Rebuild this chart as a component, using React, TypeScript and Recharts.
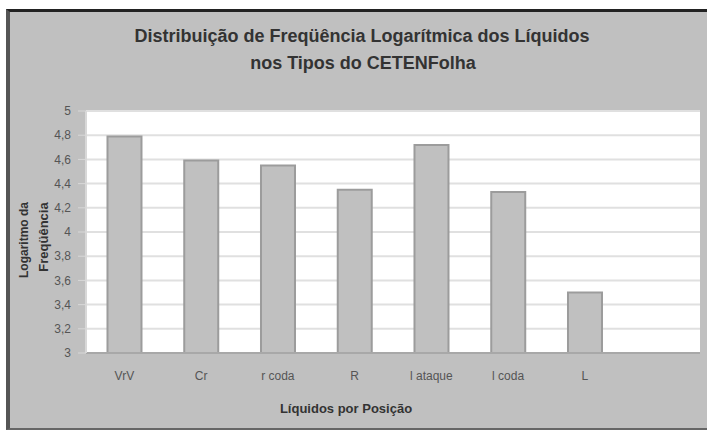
import { BarChart, Bar, XAxis, YAxis, CartesianGrid, Label } from "recharts";

// liquids by position (last slot is empty, as in the original sheet)
const categories = ["VrV", "Cr", "r coda", "R", "l ataque", "l coda", "L", ""];
const logFreq: (number | null)[] = [4.79, 4.59, 4.55, 4.35, 4.72, 4.33, 3.5, null];
const yTicks = [3, 3.2, 3.4, 3.6, 3.8, 4, 4.2, 4.4, 4.6, 4.8, 5];

const titleLines = ["Distribuição de Freqüência Logarítmica dos Líquidos", "nos Tipos do CETENFolha"];
const yTitleLines = ["Logaritmo da", "Freqüência"];
const xTitle = "Líquidos por Posição";

const data = categories.map((name, i) => ({ name, value: logFreq[i] }));

const font = "'Liberation Sans', Arial, sans-serif";

export default function App() {
  return (
    <div style={{ position: "absolute", left: 0, top: 0, width: 707, height: 430, background: "#fff" }}>
      <div
        style={{
          position: "absolute",
          left: 6,
          top: 9,
          width: 701,
          height: 421,
          boxSizing: "border-box",
          background: "#c0c0c0",
          borderLeft: "4px solid #555",
          borderTop: "3px solid #222",
          borderBottom: "2px solid #666",
        }}
      />
      <BarChart
        width={707}
        height={430}
        data={data}
        margin={{ top: 111, right: 7, bottom: 47, left: 0 }}
        barCategoryGap="28%"
        style={{ position: "absolute", left: 0, top: 0, fontFamily: font }}
      >
        <CartesianGrid vertical={false} fill="#ffffff" stroke="#e0e0e0" strokeWidth={2} />
        <XAxis
          dataKey="name"
          height={30}
          tick={{ fontSize: 12, fill: "#555" }}
          tickLine={false}
          tickSize={6}
          tickMargin={12}
          axisLine={{ stroke: "#a8a8a8", strokeWidth: 2 }}
        >
          <Label
            content={() => (
              <text x={346} y={413} textAnchor="middle" fontSize={13} fontWeight="bold" fill="#333" fontFamily={font}>
                {xTitle}
              </text>
            )}
          />
        </XAxis>
        <YAxis
          width={86}
          domain={[3, 5]}
          ticks={yTicks}
          interval={0}
          tickFormatter={(v: number) => String(v).replace(".", ",")}
          tick={{ fontSize: 12, fill: "#555" }}
          tickSize={8}
          tickMargin={7}
          tickLine={{ stroke: "#d8d8d8" }}
          axisLine={{ stroke: "#d8d8d8", strokeWidth: 2 }}
        >
          <Label
            content={() => (
              <g fontFamily={font} fontSize={12} fontWeight="bold" fill="#333" textAnchor="middle">
                <text x={28} y={240} transform="rotate(-90 28 240)">{yTitleLines[0]}</text>
                <text x={48} y={237} fontSize={13} transform="rotate(-90 48 237)">{yTitleLines[1]}</text>
                <text x={362} y={42} fontSize={18}>{titleLines[0]}</text>
                <text x={363} y={69} fontSize={18}>{titleLines[1]}</text>
              </g>
            )}
          />
        </YAxis>
        <Bar dataKey="value" fill="#c0c0c0" stroke="#9c9c9c" strokeWidth={2} isAnimationActive={false} />
      </BarChart>
    </div>
  );
}
